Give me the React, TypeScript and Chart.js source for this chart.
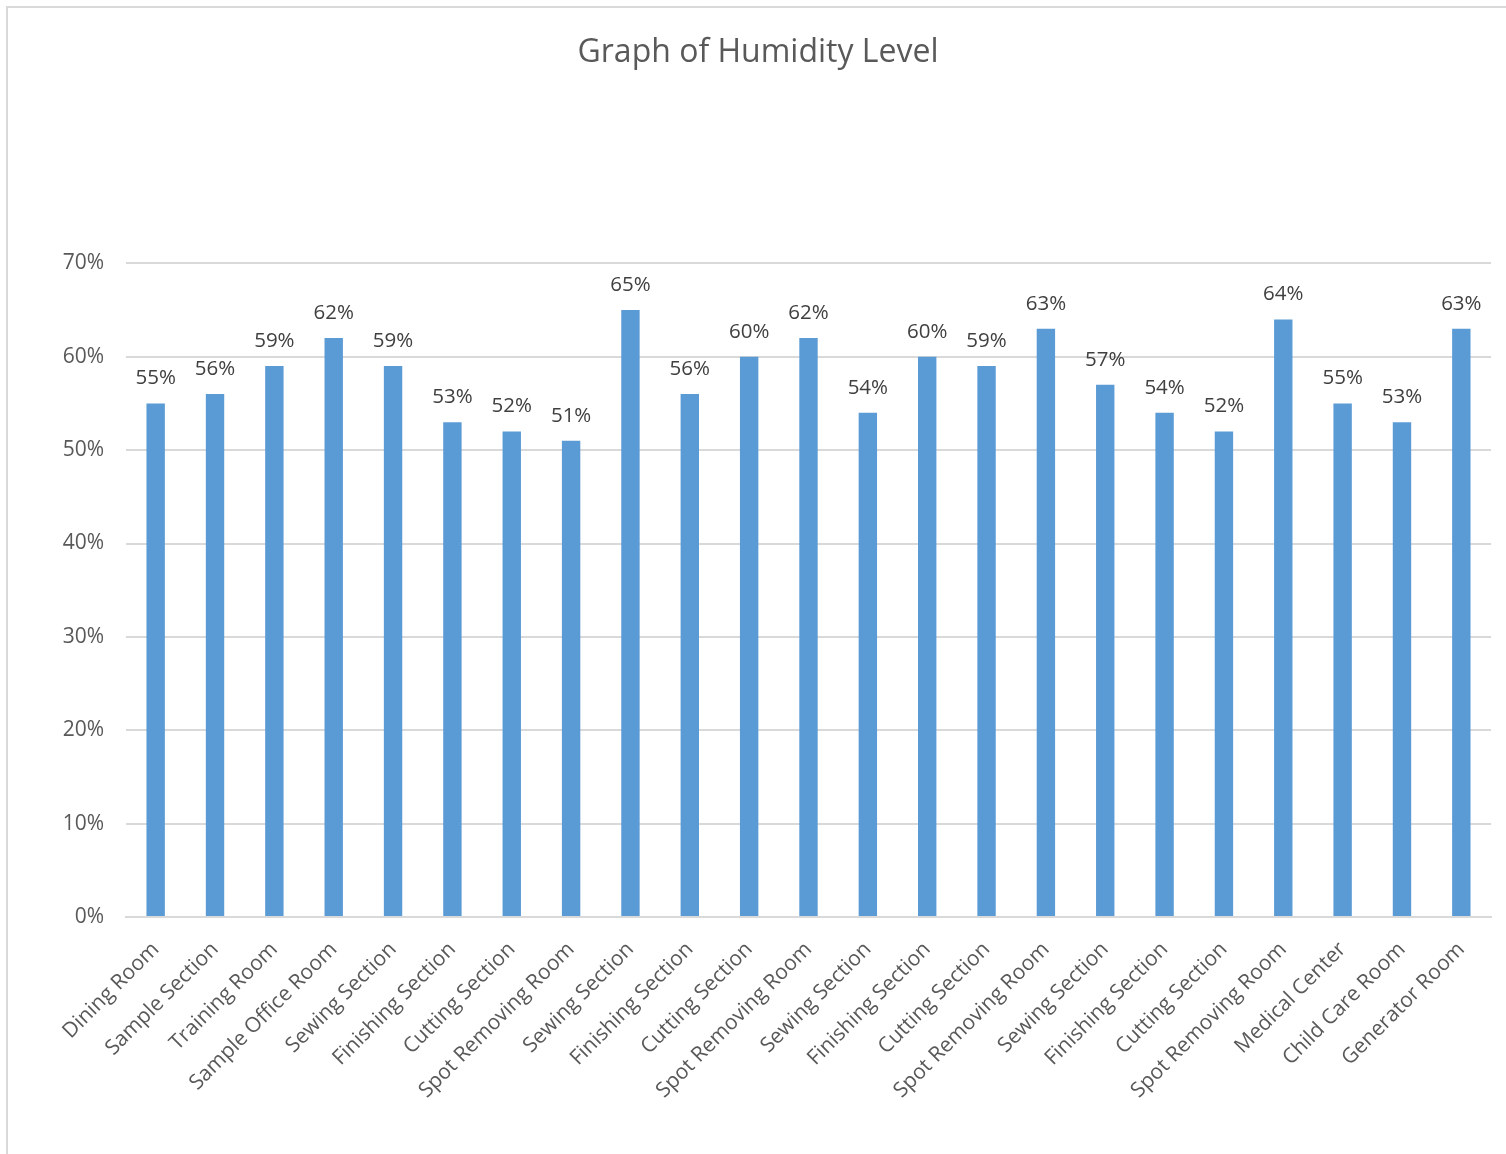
import React, { useEffect, useRef } from "react";
import { Chart, registerables } from "chart.js";

Chart.register(...registerables);

const categories = [
  "Dining Room", "Sample Section", "Training Room", "Sample Office Room", "Sewing Section",
  "Finishing Section", "Cutting Section", "Spot Removing Room", "Sewing Section", "Finishing Section",
  "Cutting Section", "Spot Removing Room", "Sewing Section", "Finishing Section", "Cutting Section",
  "Spot Removing Room", "Sewing Section", "Finishing Section", "Cutting Section", "Spot Removing Room",
  "Medical Center", "Child Care Room", "Generator Room",
];
const humidity = [55, 56, 59, 62, 59, 53, 52, 51, 65, 56, 60, 62, 54, 60, 59, 63, 57, 54, 52, 64, 55, 53, 63];
const yTicks = [0, 10, 20, 30, 40, 50, 60, 70];

const FONT = "'Open Sans', sans-serif";

const dataLabels = {
  id: "dataLabels",
  afterDatasetsDraw(chart: any) {
    const ctx = chart.ctx;
    const meta = chart.getDatasetMeta(0);
    ctx.save();
    ctx.fillStyle = "#404040";
    ctx.font = `20.5px ${FONT}`;
    ctx.textAlign = "center";
    ctx.textBaseline = "middle";
    meta.data.forEach((bar: any, i: number) => {
      ctx.fillText(`${humidity[i]}%`, bar.x, bar.y - 25);
    });
    ctx.restore();
  },
};

export default function App() {
  const ref = useRef<HTMLCanvasElement>(null);
  useEffect(() => {
    if (!ref.current) return;
    const chart = new Chart(ref.current, {
      type: "bar",
      data: {
        labels: categories,
        datasets: [
          {
            data: humidity,
            backgroundColor: "#5B9BD5",
            barPercentage: 0.31,
            categoryPercentage: 1,
          },
        ],
      },
      options: {
        responsive: false,
        animation: false,
        layout: { padding: { left: 17, right: 17, top: 0, bottom: 0 } },
        plugins: {
          legend: { display: false },
          tooltip: { enabled: false },
          title: {
            display: true,
            text: "Graph of Humidity Level",
            color: "#595959",
            font: { family: FONT, size: 32, weight: "normal" },
            padding: { top: 26, bottom: 191 },
          },
        },
        scales: {
          x: {
            grid: { display: false },
            border: { display: true, color: "#D9D9D9", width: 2 },
            ticks: {
              color: "#595959",
              font: { family: FONT, size: 21 },
              maxRotation: 45,
              minRotation: 45,
              autoSkip: false,
              padding: 12,
            },
            afterFit(scale: any) {
              scale.height = 237;
            },
          },
          y: {
            min: 0,
            max: 70,
            afterBuildTicks(scale: any) {
              scale.ticks = yTicks.map((v) => ({ value: v }));
            },
            grid: { color: "#D9D9D9", lineWidth: 2, drawTicks: false },
            border: { display: false },
            ticks: {
              color: "#595959",
              font: { family: FONT, size: 21 },
              padding: 22,
              callback: (v: any) => `${v}%`,
            },
            afterFit(scale: any) {
              scale.width = 101;
            },
          },
        },
      },
      plugins: [dataLabels],
    });
    return () => chart.destroy();
  }, []);
  return (
    <div
      style={{
        position: "absolute",
        left: 6,
        top: 6,
        width: 1504,
        height: 1150,
        border: "2px solid #D9D9D9",
        boxSizing: "border-box",
        background: "#fff",
      }}
    >
      <canvas ref={ref} width={1500} height={1146} style={{ display: "block" }} />
    </div>
  );
}
